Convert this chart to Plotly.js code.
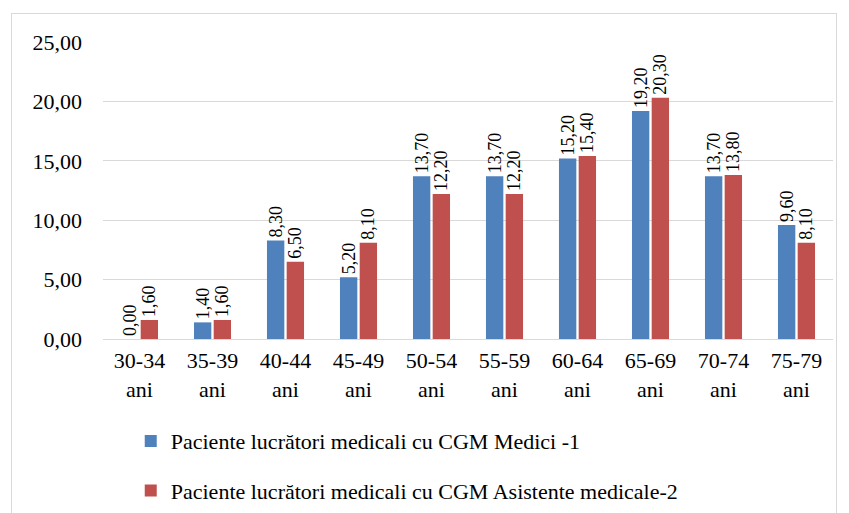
<!DOCTYPE html>
<html><head><meta charset="utf-8">
<script src="https://cdn.plot.ly/plotly-3.0.1.min.js"></script>
<style>
html,body{margin:0;padding:0;background:#fff;}
#frame{position:absolute;left:11px;top:13px;width:826px;height:510px;border:1px solid #d9d9d9;box-sizing:border-box;pointer-events:none;z-index:5;}
#chart{position:absolute;left:0;top:0;width:849px;height:513px;}
</style></head>
<body>
<div id="chart"></div><div id="frame"></div>
<script>
const categories = ["30-34<br>ani","35-39<br>ani","40-44<br>ani","45-49<br>ani","50-54<br>ani","55-59<br>ani","60-64<br>ani","65-69<br>ani","70-74<br>ani","75-79<br>ani"];
const medici = [0.00,1.40,8.30,5.20,13.70,13.70,15.20,19.20,13.70,9.60];
const asistente = [1.60,1.60,6.50,8.10,12.20,12.20,15.40,20.30,13.80,8.10];
const seriesNames = ["Paciente lucrători medicali cu CGM Medici -1","Paciente lucrători medicali cu CGM Asistente medicale-2"];
const yTicks = [0,5,10,15,20,25];

const font = "serif";
function mk(y, name, color, grp){
  return {type:'bar', x:categories, y:y, name:name, legendgroup:grp,
    marker:{color:color},
    texttemplate:'%{y:.2f}', textposition:'outside', textangle:-90, constraintext:'none',
    textfont:{family:font,size:18,color:'#000'}, cliponaxis:false, hoverinfo:'none'};
}
const data = [mk(medici,seriesNames[0],'#4f81bd','a'), mk(asistente,seriesNames[1],'#c0504d','b')];
const layout = {
  width:849, height:513, separators:',.',
  margin:{l:103,r:16,t:42,b:174, autoexpand:false},
  paper_bgcolor:'#fff', plot_bgcolor:'#fff',
  font:{family:font,size:22,color:'#000'},
  barmode:'group', bargap:0.46, bargroupgap:0.12,
  xaxis:{type:'category', automargin:false, showgrid:false, showline:false, ticks:'', tickfont:{size:22,family:font}, tickangle:0, ticklabelstandoff:6},
  yaxis:{range:[0,25], automargin:false, tickvals:yTicks, tickformat:'.2f', showgrid:true, gridcolor:'#d9d9d9', gridwidth:1,
    zeroline:true, zerolinecolor:'#d9d9d9', zerolinewidth:1, showline:false, ticks:'', ticklabelstandoff:20, tickfont:{size:22,family:font}},
  showlegend:true,
  legend:{x:0.038, y:-0.273, xanchor:'left', yanchor:'top', orientation:'v', traceorder:'grouped', tracegroupgap:18,
    font:{family:font,size:22,color:'#000'}, itemwidth:30, bgcolor:'rgba(0,0,0,0)'}
};
Plotly.newPlot('chart', data, layout, {staticPlot:true});
</script>
</body></html>
